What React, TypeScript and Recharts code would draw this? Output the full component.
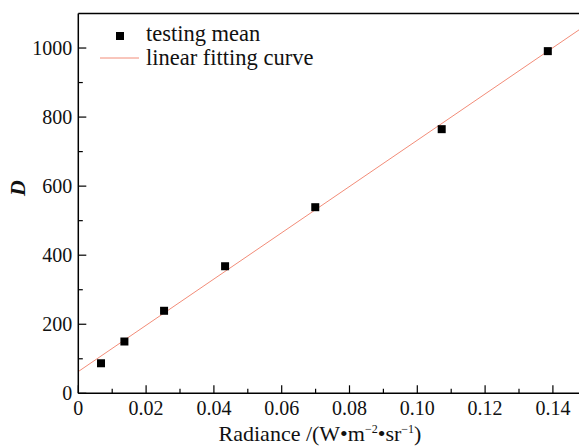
import React from "react";
import {
  ComposedChart,
  Scatter,
  Line,
  XAxis,
  YAxis,
  ReferenceLine,
} from "recharts";

const radiance = [0.0067, 0.0136, 0.0253, 0.0433, 0.0699, 0.1072, 0.1385];
const testingMean = [87, 150, 239, 368, 539, 765, 991];

const fitX = [0, 0.15];
const fitY = [63, 1068];

const xMajorTicks = [0, 0.02, 0.04, 0.06, 0.08, 0.1, 0.12, 0.14];
const xMinorTicks = [0.01, 0.03, 0.05, 0.07, 0.09, 0.11, 0.13];
const yMajorTicks = [0, 200, 400, 600, 800, 1000];
const yMinorTicks = [100, 300, 500, 700, 900];

const legendNames = ["testing mean", "linear fitting curve"];

const FONT = "Liberation Serif";
const LINE_COLOR = "#f28c78";

const points = radiance.map((x, i) => ({ x, y: testingMean[i] }));
const fitLine = fitX.map((x, i) => ({ x, y: fitY[i] }));

const isMajor = (list: number[], v: number) =>
  list.some((m) => Math.abs(m - v) < 1e-9);

const XTick = (props: any) => {
  const { x, y, payload } = props;
  const v = payload.value;
  const major = isMajor(xMajorTicks, v);
  return (
    <g>
      <line x1={x} x2={x} y1={y} y2={y - (major ? 8 : 4.5)} stroke="#000" strokeWidth={1.2} />
      {major && (
        <text x={x} y={y + 22} textAnchor="middle" fontFamily={FONT} fontSize={20} fill="#111">
          {v === 0 ? "0" : v.toFixed(2)}
        </text>
      )}
    </g>
  );
};

const YTick = (props: any) => {
  const { x, y, payload } = props;
  const v = payload.value;
  const major = isMajor(yMajorTicks, v);
  return (
    <g>
      <line x1={x} x2={x + (major ? 8 : 4.5)} y1={y} y2={y} stroke="#000" strokeWidth={1.2} />
      {major && (
        <text x={x - 6} y={y + 7} textAnchor="end" fontFamily={FONT} fontSize={20} fill="#111">
          {v}
        </text>
      )}
    </g>
  );
};

const Square = (props: any) => {
  const { cx, cy } = props;
  return <rect x={cx - 4} y={cy - 4} width={8} height={8} fill="#000" />;
};

export default function App() {
  const xTicks = [...xMajorTicks, ...xMinorTicks, 0.15].sort((a, b) => a - b);
  const yTicks = [...yMajorTicks, ...yMinorTicks].sort((a, b) => a - b);
  return (
    <div
      style={{
        position: "fixed",
        left: 0,
        top: 0,
        width: 579,
        height: 447,
        overflow: "hidden",
        background: "#fff",
      }}
    >
      <ComposedChart
        width={600}
        height={447}
        margin={{ top: 13.5, right: 13.2, left: 0, bottom: 0 }}
      >
        <XAxis
          type="number"
          dataKey="x"
          domain={[0, 0.15]}
          ticks={xTicks}
          interval={0}
          tickSize={0}
          tickMargin={0}
          tickLine={false}
          tick={<XTick />}
          height={53.7}
          axisLine={{ stroke: "#000", strokeWidth: 1.5 }}
          allowDataOverflow
        />
        <YAxis
          type="number"
          dataKey="y"
          domain={[0, 1100]}
          ticks={yTicks}
          interval={0}
          tickSize={0}
          tickMargin={0}
          tickLine={false}
          tick={<YTick />}
          width={78.3}
          axisLine={{ stroke: "#000", strokeWidth: 1.5 }}
          allowDataOverflow
        />
        <ReferenceLine y={1100} stroke="#000" strokeWidth={1.5} />
        <ReferenceLine x={0.15} stroke="#000" strokeWidth={1.5} />
        <Line
          data={fitLine}
          dataKey="y"
          name={legendNames[1]}
          stroke={LINE_COLOR}
          strokeWidth={1}
          dot={false}
          isAnimationActive={false}
        />
        <Scatter
          data={points}
          dataKey="y"
          name={legendNames[0]}
          fill="#000"
          shape={<Square />}
          isAnimationActive={false}
        />
        <g>
          <rect x={116} y={32} width={8} height={8} fill="#000" />
          <text x={146} y={41} fontFamily={FONT} fontSize={22.5} fill="#111">
            {legendNames[0]}
          </text>
          <line x1={100} x2={139} y1={58} y2={58} stroke={LINE_COLOR} strokeWidth={1} />
          <text x={146} y={65} fontFamily={FONT} fontSize={22.5} fill="#111">
            {legendNames[1]}
          </text>
        </g>
        <text
          x={17}
          y={188}
          transform="rotate(-90 17 188)"
          textAnchor="middle"
          dominantBaseline="central"
          fontFamily={FONT}
          fontStyle="italic"
          fontWeight="bold"
          fontSize={22}
          fill="#111"
        >
          D
        </text>
        <text x={320} y={441} textAnchor="middle" fontFamily={FONT} fontSize={22} fill="#111">
          Radiance /(W•m
          <tspan dy={-8} fontSize={12}>−2</tspan>
          <tspan dy={8}>•sr</tspan>
          <tspan dy={-8} fontSize={12}>−1</tspan>
          <tspan dy={8}>)</tspan>
        </text>
      </ComposedChart>
    </div>
  );
}
